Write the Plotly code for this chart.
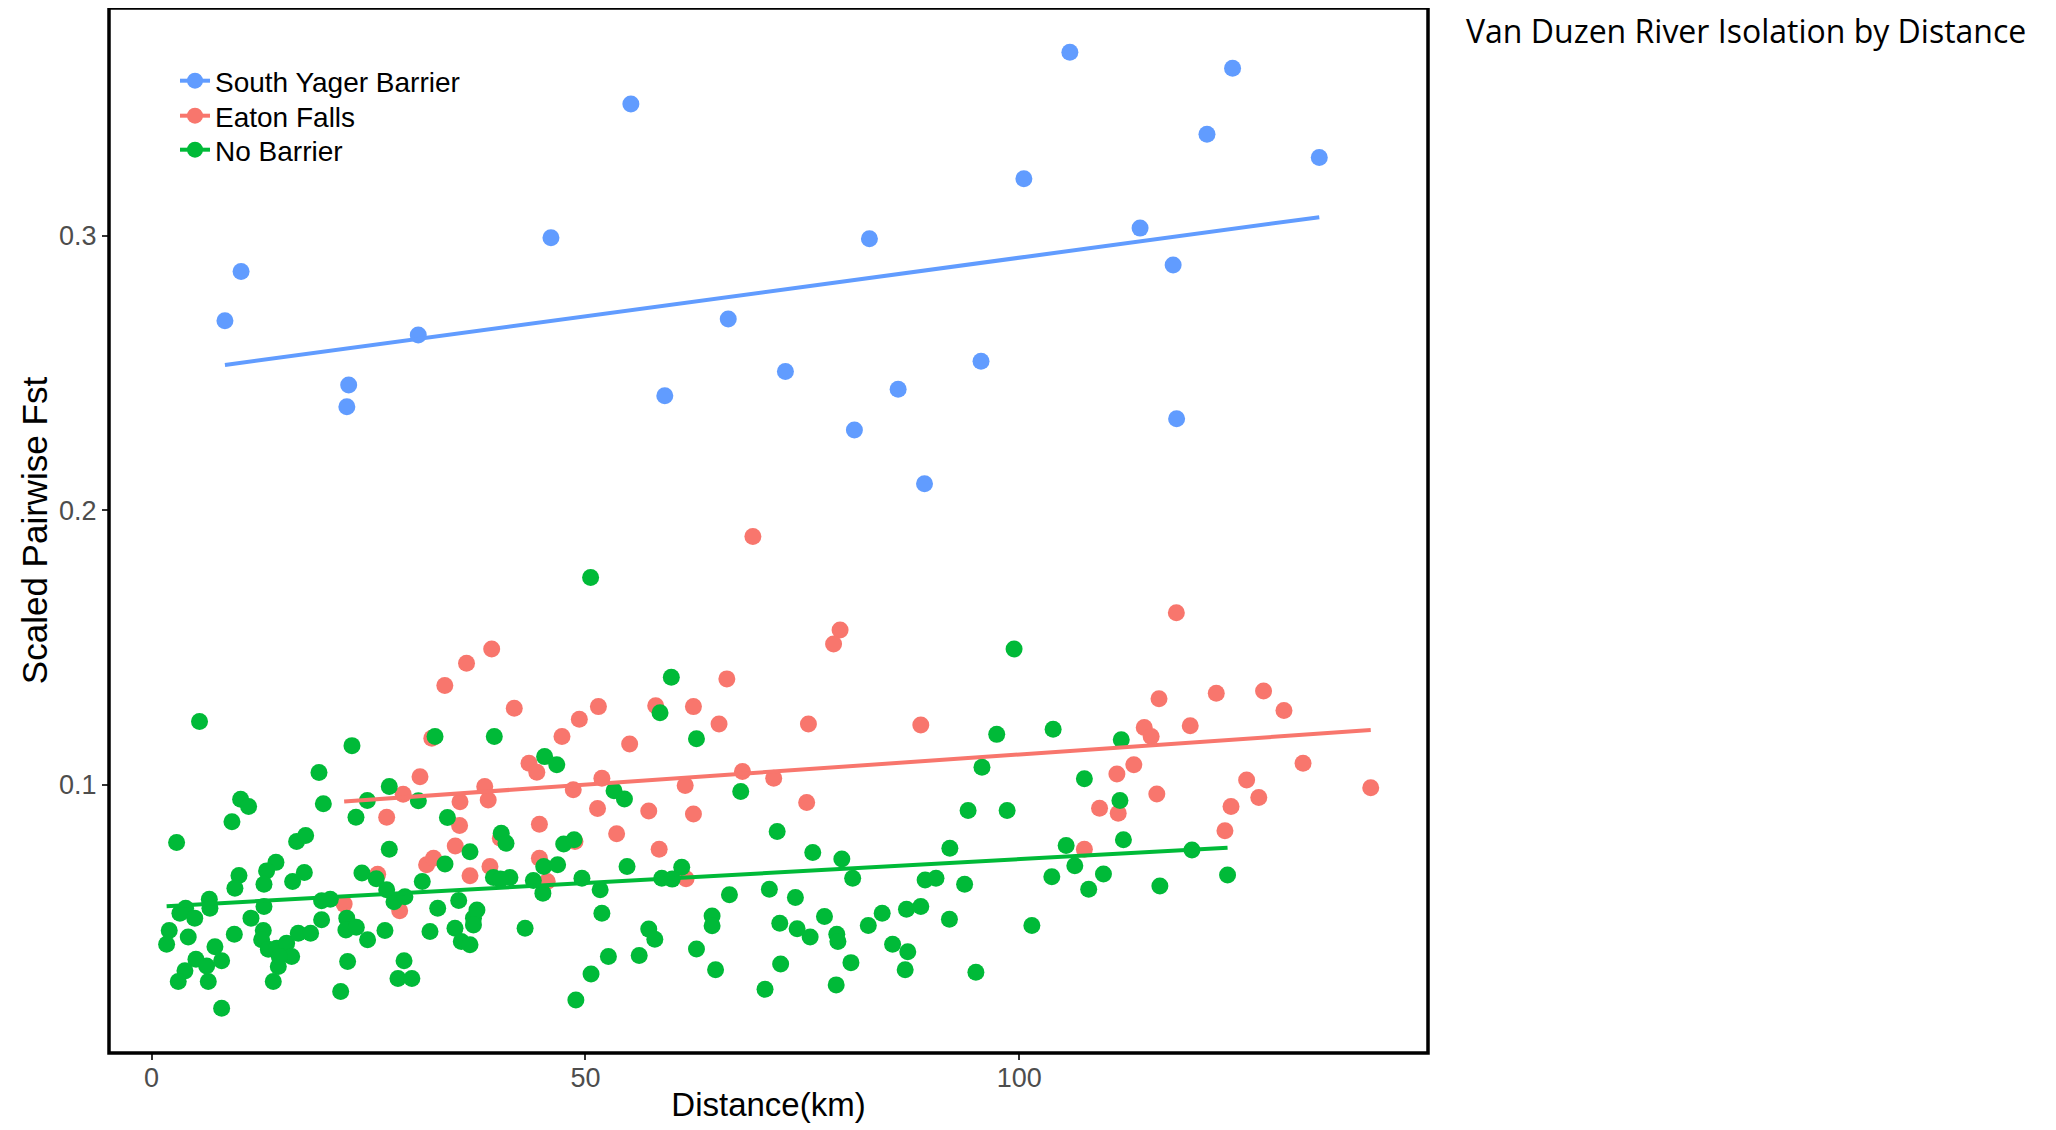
import numpy as np
import plotly.graph_objects as go

# ---------------- data ----------------
series_names = ["South Yager Barrier", "Eaton Falls", "No Barrier"]
series_colors = ["#619CFF", "#F8766D", "#00BA38"]

south_yager_x = [8.46, 10.32, 22.72, 22.51, 30.74, 46.03, 55.24, 59.15, 66.46, 73.05, 81.0,
                 82.73, 86.04, 89.08, 95.59, 100.53, 105.83, 113.92, 117.73, 118.13, 121.63,
                 124.58, 134.57]
south_yager_y = [0.2690, 0.2869, 0.2456, 0.2377, 0.2638, 0.2992, 0.3479, 0.2417, 0.2696, 0.2505,
                 0.2292, 0.2988, 0.2440, 0.2096, 0.2542, 0.3207, 0.3667, 0.3027, 0.2893, 0.2333,
                 0.3369, 0.3609, 0.3284]

eaton_x = [33.8, 32.3, 30.94, 29.0, 35.55, 27.1, 35.5, 35.0, 31.7, 32.5, 36.7, 26.06, 22.2, 28.6,
           69.3, 39.2, 36.3, 41.8, 51.5, 49.3, 47.3, 55.1, 58.1, 62.45, 66.3, 65.4, 43.5, 44.4,
           38.4, 38.8, 48.6, 51.9, 51.4, 61.5, 57.3, 62.45, 68.1, 71.7, 44.7, 53.6, 40.2, 48.8,
           58.5, 44.7, 39.0, 45.6, 61.6,
           79.35, 78.6, 75.7, 88.65, 75.5, 111.25, 109.25, 111.4, 107.5,
           118.1, 116.1, 122.7, 128.15, 130.5, 114.4, 115.2, 119.7, 113.2, 132.7, 140.5, 115.85,
           126.2, 127.6, 124.4, 123.7]
eaton_y = [0.1362, 0.1170, 0.1030, 0.0966, 0.0939, 0.0882, 0.0852, 0.0778, 0.0709, 0.0733, 0.0669,
           0.0675, 0.0566, 0.0542,
           0.1904, 0.1495, 0.1443, 0.1279, 0.1285, 0.1239, 0.1176, 0.1149, 0.1288, 0.1285, 0.1386,
           0.1222, 0.1079, 0.1046, 0.0994, 0.0945, 0.0982, 0.1024, 0.0914, 0.0998, 0.0905, 0.0894,
           0.1049, 0.1024, 0.0857, 0.0822, 0.0806, 0.0794, 0.0766, 0.0733, 0.0703, 0.0648, 0.0658,
           0.1564, 0.1513, 0.1222, 0.1218, 0.0936, 0.1040, 0.0915, 0.0897, 0.0766,
           0.1627, 0.1314, 0.1334, 0.1342, 0.1271, 0.1209, 0.1176, 0.1215, 0.1073, 0.1079, 0.0990,
           0.0967, 0.1018, 0.0954, 0.0921, 0.0833]

no_barrier_x = [
    5.53, 23.1, 19.3, 19.8, 10.27, 11.19, 9.27, 2.89, 16.72, 17.76, 14.34, 13.26, 12.96, 10.08,
    9.61, 16.26, 17.61, 6.66, 6.73, 3.93, 3.27, 4.98, 12.96, 11.46, 19.6, 20.6, 19.6, 2.04, 1.74,
    4.23, 7.31, 9.54, 5.12, 3.85, 3.08, 6.54, 6.35, 8.08, 8.08, 12.88, 12.69, 13.46, 14.42, 15.57,
    16.15, 16.91, 18.33, 14.61, 14.03, 14.72, 22.5, 22.4, 23.6, 24.9, 22.6, 21.8, 26.9, 24.87,
    27.4, 23.56, 27.4, 24.25, 25.9, 27.1, 27.94, 29.2, 29.1, 28.4, 30.0, 32.67, 34.1, 30.75,
    33.82, 36.7, 31.2, 32.98, 35.4, 32.09, 34.97, 35.7, 36.7, 37.1, 37.5,
    50.6, 59.9, 58.6, 62.8, 39.5, 45.3, 46.7, 53.3, 54.5, 67.9, 72.1, 40.3, 40.85, 47.5, 48.7,
    45.2, 46.8, 54.8, 61.1, 39.4, 41.3, 40.2, 44.0, 49.6, 58.8, 60.0, 45.1, 51.7, 51.9, 66.6,
    71.2, 74.2, 37.1, 43.05, 64.6, 64.6, 57.3, 58.0, 62.8, 72.4, 74.4, 52.65, 56.2, 50.65, 65.0,
    72.5, 70.7, 48.9,
    99.4, 97.4, 103.9, 111.75, 95.7, 107.5, 111.6, 94.1, 98.6, 112.0, 76.2, 79.55, 92.0, 105.4,
    106.4, 80.8, 89.15, 90.4, 93.7, 103.75, 109.7, 108.0, 77.55, 75.9, 78.97, 79.1, 82.6, 84.2,
    87.0, 88.65, 91.95, 101.45, 85.4, 87.15, 80.6, 86.85, 95.0, 78.9,
    119.9, 124.0, 116.2]
no_barrier_y = [
    0.1231, 0.1143, 0.1045, 0.0931, 0.0948, 0.0921, 0.0866, 0.0790, 0.0794, 0.0816, 0.0718, 0.0687,
    0.0638, 0.0670, 0.0624, 0.0648, 0.0681, 0.0584, 0.0551, 0.0551, 0.0533, 0.0515, 0.0557, 0.0515,
    0.0578, 0.0584, 0.0509, 0.0470, 0.0420, 0.0446, 0.0411, 0.0456, 0.0365, 0.0323, 0.0284, 0.0284,
    0.0341, 0.0360, 0.0187, 0.0470, 0.0436, 0.0402, 0.0405, 0.0424, 0.0375, 0.0460, 0.0460, 0.0339,
    0.0284, 0.0375, 0.0515, 0.0472, 0.0482, 0.0436, 0.0357, 0.0248, 0.0470, 0.0943, 0.0994, 0.0882,
    0.0766, 0.0679, 0.0658, 0.0618, 0.0575, 0.0593, 0.0360, 0.0295, 0.0295, 0.1176, 0.0881, 0.0942,
    0.0712, 0.0757, 0.0648, 0.0551, 0.0579, 0.0466, 0.0478, 0.0430, 0.0418, 0.0515, 0.0545,
    0.1755, 0.1392, 0.1263, 0.1168, 0.1176, 0.1103, 0.1073, 0.0979, 0.0949, 0.0976, 0.0830, 0.0824,
    0.0788, 0.0785, 0.0800, 0.0703, 0.0709, 0.0703, 0.0700, 0.0663, 0.0663, 0.0657, 0.0652, 0.0660,
    0.0660, 0.0657, 0.0606, 0.0618, 0.0533, 0.0600, 0.0620, 0.0590, 0.0490, 0.0478, 0.0523, 0.0487,
    0.0475, 0.0438, 0.0403, 0.0496, 0.0476, 0.0375, 0.0379, 0.0312, 0.0327, 0.0348, 0.0256, 0.0217,
    0.1495, 0.1184, 0.1203, 0.1164, 0.1064, 0.1022, 0.0943, 0.0907, 0.0907, 0.0800, 0.0754, 0.0730,
    0.0769, 0.0779, 0.0706, 0.0660, 0.0654, 0.0660, 0.0638, 0.0666, 0.0676, 0.0620, 0.0521, 0.0446,
    0.0456, 0.0430, 0.0488, 0.0533, 0.0547, 0.0557, 0.0511, 0.0488, 0.0420, 0.0393, 0.0353, 0.0327,
    0.0318, 0.0272,
    0.0763, 0.0672, 0.0632]

x_ticks = [0, 50, 100]
y_ticks = [0.1, 0.2, 0.3]
y_tick_labels = ["0.1", "0.2", "0.3"]

title_text = "Van Duzen River Isolation by Distance"
x_title = "Distance(km)"
y_title = "Scaled Pairwise Fst"

# ---------------- figure ----------------
data_by_name = {
    "South Yager Barrier": (south_yager_x, south_yager_y),
    "Eaton Falls": (eaton_x, eaton_y),
    "No Barrier": (no_barrier_x, no_barrier_y),
}
color_by_name = dict(zip(series_names, series_colors))

fig = go.Figure()
MARKER = 17
LW = 4

# points, drawn in factor order (Eaton Falls, No Barrier, South Yager Barrier)
draw_order = ["Eaton Falls", "No Barrier", "South Yager Barrier"]
for name in draw_order:
    xs, ys = data_by_name[name]
    fig.add_trace(go.Scatter(
        x=xs, y=ys, mode="markers", showlegend=False, name=name,
        marker=dict(size=MARKER, color=color_by_name[name], line=dict(width=0)),
    ))

# linear fits (lm) over each group's x-range
for name in draw_order:
    xs, ys = data_by_name[name]
    xa, ya = np.array(xs), np.array(ys)
    slope, intercept = np.polyfit(xa, ya, 1)
    fx = np.array([xa.min(), xa.max()])
    fig.add_trace(go.Scatter(
        x=fx, y=slope * fx + intercept, mode="lines", showlegend=False, name=name,
        line=dict(color=color_by_name[name], width=LW),
    ))

# page offset (html body margin) and target plot box in screenshot pixels
OFF = 8
W, H = 2048, 1122
box_left, box_right, box_top, box_bottom = 109, 1428, 7, 1053
top_px = max(box_top, OFF)
L = box_left - OFF
R = W - (box_right - OFF)
T = top_px - OFF
B = H - (box_bottom - OFF)
pw = box_right - box_left
ph = box_bottom - top_px

Y_LO, Y_HI = 0.0024, 0.3832
y_hi_eff = Y_HI - (Y_HI - Y_LO) / (box_bottom - box_top) * (top_px - box_top)


def px_to_paper_y(py):
    return (box_bottom - py) / ph


def px_to_paper_x(px):
    return (px - box_left) / pw


# legend entries, each placed as its own legend row
legend_rows_y = [81, 116, 150]
legend_keys = ["legend", "legend2", "legend3"]
legend_layout = {}
for name, ly, key in zip(series_names, legend_rows_y, legend_keys):
    fig.add_trace(go.Scatter(
        x=[None], y=[None], mode="lines+markers", name=name, legend=key,
        marker=dict(size=MARKER, color=color_by_name[name], line=dict(width=0)),
        line=dict(color=color_by_name[name], width=LW),
    ))
    legend_layout[key] = dict(
        x=px_to_paper_x(175), y=px_to_paper_y(ly), xanchor="left", yanchor="middle",
        bgcolor="rgba(0,0,0,0)", font=dict(size=28, color="black"),
        itemsizing="trace",
    )

fig.update_layout(
    width=W, height=H,
    margin=dict(l=L, r=R, t=T, b=B, pad=0),
    paper_bgcolor="white", plot_bgcolor="white",
    font=dict(family="Liberation Sans, Arial, sans-serif", color="black"),
    showlegend=True,
    xaxis=dict(
        range=[-4.9, 147.1], tickvals=x_ticks, showgrid=False, zeroline=False,
        ticks="outside", ticklen=6, tickwidth=1.5, tickcolor="#333333",
        tickfont=dict(size=27, color="#4D4D4D"), ticklabelstandoff=-5,
        showline=False,
        title=dict(text=x_title, font=dict(size=33, color="black"), standoff=0),
        automargin=False,
    ),
    yaxis=dict(
        range=[Y_LO, y_hi_eff],
        tickvals=y_ticks, ticktext=y_tick_labels,
        showgrid=False, zeroline=False,
        ticks="outside", ticklen=6, tickwidth=1.5, tickcolor="#333333",
        tickfont=dict(size=27, color="#4D4D4D"),
        showline=False,
        title=dict(text=y_title, font=dict(size=35, color="black"), standoff=0),
        automargin=False,
    ),
    shapes=[dict(type="rect", xref="paper", yref="paper", x0=0, x1=1, y0=0, y1=1,
                 line=dict(color="black", width=3.5), fillcolor="rgba(0,0,0,0)", layer="above")],
    annotations=[dict(
        text=title_text, xref="paper", yref="paper",
        x=px_to_paper_x(1465), y=px_to_paper_y(top_px), xanchor="left", yanchor="top",
        showarrow=False, borderpad=0,
        font=dict(family="Open Sans, Noto Sans, sans-serif", size=32, color="black"),
    )],
    **legend_layout,
)

fig.write_html("out.html")
